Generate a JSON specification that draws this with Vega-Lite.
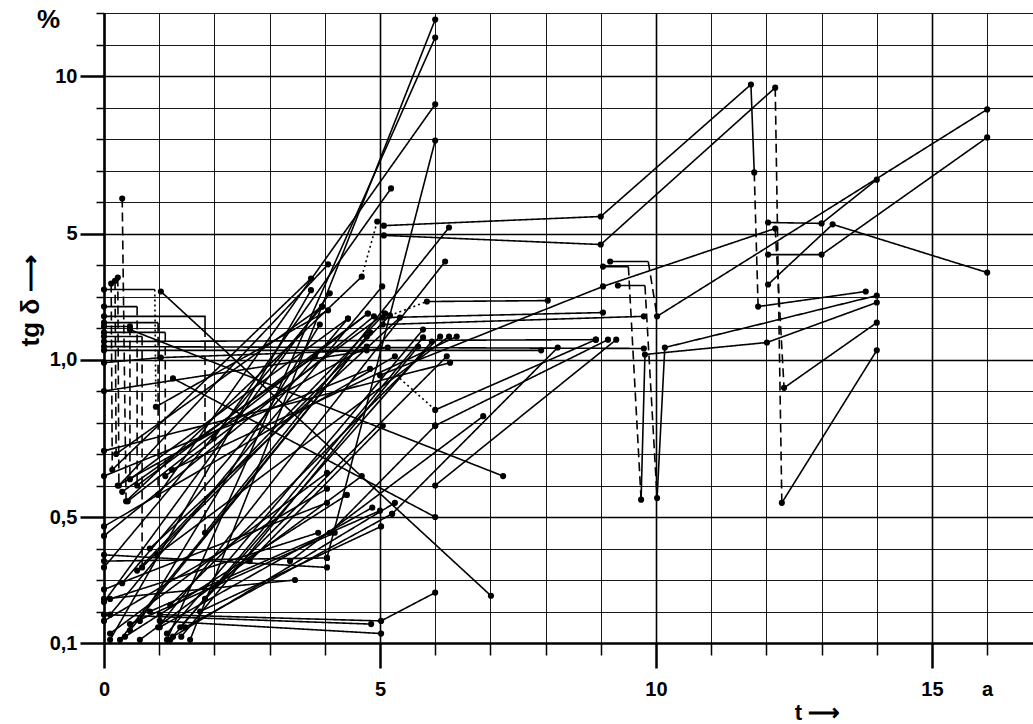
{
"$schema": "https://vega.github.io/schema/vega-lite/v6.json",
"width": 929, "height": 630,
"autosize": {"type": "none"},
"padding": {"left": 104, "top": 13, "right": 0, "bottom": 81},
"background": "white",
"config": {"view": {"stroke": null}, "font": "Liberation Sans"},
"title": {"text": "%", "anchor": "start", "frame": "group", "orient": "top", "dx": -67, "dy": 34, "offset": -9, "baseline": "middle", "fontSize": 26, "fontWeight": "bold", "color": "black"},
"data": {"values": [
{"s":"S1","k":"solid","o":1,"t":5.07,"v":5.25,"p":1},{"s":"S1","k":"solid","o":2,"t":9.0,"v":5.54,"p":1},{"s":"S1","k":"solid","o":3,"t":11.72,"v":9.73,"p":1},{"s":"S1","k":"solid","o":4,"t":11.78,"v":6.94,"p":1},
{"s":"S1d","k":"dash","o":1,"t":11.78,"v":6.94,"p":0},{"s":"S1d","k":"dash","o":2,"t":11.85,"v":2.68,"p":1},
{"s":"S1b","k":"solid","o":1,"t":11.85,"v":2.68,"p":0},{"s":"S1b","k":"solid","o":2,"t":13.8,"v":3.16,"p":1},
{"s":"S2","k":"solid","o":1,"t":5.07,"v":4.94,"p":1},{"s":"S2","k":"solid","o":2,"t":9.0,"v":4.65,"p":1},{"s":"S2","k":"solid","o":3,"t":12.16,"v":9.63,"p":1},
{"s":"S2d","k":"dash","o":1,"t":12.16,"v":9.63,"p":0},{"s":"S2d","k":"dash","o":2,"t":12.28,"v":0.545,"p":1},
{"s":"S2b","k":"solid","o":1,"t":12.28,"v":0.545,"p":0},{"s":"S2b","k":"solid","o":2,"t":14,"v":1.29,"p":1},
{"s":"S3","k":"solid","o":1,"t":5.0,"v":0.95,"p":1},{"s":"S3","k":"solid","o":2,"t":9.04,"v":3.32,"p":1},{"s":"S3","k":"solid","o":3,"t":12.16,"v":5.16,"p":1},
{"s":"S3d","k":"dash","o":1,"t":12.16,"v":5.16,"p":0},{"s":"S3d","k":"dash","o":2,"t":12.32,"v":0.91,"p":1},
{"s":"S3b","k":"solid","o":1,"t":12.32,"v":0.91,"p":0},{"s":"S3b","k":"solid","o":2,"t":14,"v":2.17,"p":1},
{"s":"S4","k":"solid","o":1,"t":12.03,"v":5.35,"p":1},{"s":"S4","k":"solid","o":2,"t":13,"v":5.32,"p":1},{"s":"S4","k":"solid","o":3,"t":14,"v":6.71,"p":1},
{"s":"S5","k":"solid","o":1,"t":12.03,"v":4.33,"p":1},{"s":"S5","k":"solid","o":2,"t":13,"v":4.33,"p":1},{"s":"S5","k":"solid","o":3,"t":16,"v":8.05,"p":1},
{"s":"S6","k":"solid","o":1,"t":12.03,"v":3.38,"p":1},{"s":"S6","k":"solid","o":2,"t":13.2,"v":5.29,"p":1},{"s":"S6","k":"solid","o":3,"t":16,"v":3.76,"p":1},
{"s":"Z3a","k":"solid","o":1,"t":9.17,"v":4.11,"p":1},{"s":"Z3a","k":"solid","o":2,"t":9.86,"v":4.11,"p":0},
{"s":"Z3d","k":"dash","o":1,"t":9.86,"v":4.11,"p":0},{"s":"Z3d","k":"dash","o":2,"t":10.02,"v":2.37,"p":1},
{"s":"Z3b","k":"solid","o":1,"t":10.02,"v":2.37,"p":0},{"s":"Z3b","k":"solid","o":2,"t":16,"v":8.94,"p":1},
{"s":"Z2a","k":"solid","o":1,"t":9.31,"v":3.35,"p":1},{"s":"Z2a","k":"solid","o":2,"t":9.8,"v":3.35,"p":0},
{"s":"Z2d","k":"dash","o":1,"t":9.8,"v":3.35,"p":0},{"s":"Z2d","k":"dash","o":2,"t":10.02,"v":0.56,"p":1},
{"s":"Z2b","k":"solid","o":1,"t":10.02,"v":0.56,"p":0},{"s":"Z2b","k":"solid","o":2,"t":10.16,"v":1.38,"p":1},{"s":"Z2b","k":"solid","o":3,"t":14,"v":3.03,"p":1},
{"s":"Z1a","k":"solid","o":1,"t":9.04,"v":3.95,"p":1},{"s":"Z1a","k":"solid","o":2,"t":9.5,"v":3.95,"p":0},
{"s":"Z1d","k":"dash","o":1,"t":9.5,"v":3.95,"p":0},{"s":"Z1d","k":"dash","o":2,"t":9.73,"v":0.555,"p":1},
{"s":"Z1b","k":"solid","o":1,"t":9.73,"v":0.555,"p":0},{"s":"Z1b","k":"solid","o":2,"t":9.8,"v":1.16,"p":1},{"s":"Z1b","k":"solid","o":3,"t":12.01,"v":1.54,"p":1},{"s":"Z1b","k":"solid","o":4,"t":14,"v":2.81,"p":1},
{"s":"F1o","k":"dot","o":1,"t":5.18,"v":2.4,"p":1},{"s":"F1o","k":"dot","o":2,"t":5.85,"v":2.84,"p":1},
{"s":"F1","k":"solid","o":1,"t":5.85,"v":2.84,"p":0},{"s":"F1","k":"solid","o":2,"t":8.04,"v":2.87,"p":1},
{"s":"F2","k":"solid","o":1,"t":5.05,"v":2.33,"p":1},{"s":"F2","k":"solid","o":2,"t":9.04,"v":2.49,"p":1},
{"s":"F3","k":"solid","o":1,"t":5.05,"v":2.11,"p":1},{"s":"F3","k":"solid","o":2,"t":9.78,"v":2.37,"p":1},
{"s":"F4","k":"solid","o":1,"t":0,"v":1.41,"p":1},{"s":"F4","k":"solid","o":2,"t":9.78,"v":1.35,"p":1},
{"s":"F5","k":"solid","o":1,"t":0,"v":1.57,"p":1},{"s":"F5","k":"solid","o":2,"t":8.91,"v":1.63,"p":1},
{"s":"F6","k":"solid","o":1,"t":0,"v":1.29,"p":1},{"s":"F6","k":"solid","o":2,"t":7.92,"v":1.29,"p":1},
{"s":"F7","k":"solid","o":1,"t":5.22,"v":0.51,"p":1},{"s":"F7","k":"solid","o":2,"t":8.22,"v":1.38,"p":1},
{"s":"F8","k":"solid","o":1,"t":6.0,"v":0.79,"p":1},{"s":"F8","k":"solid","o":2,"t":9.13,"v":1.63,"p":1},
{"s":"F9o","k":"dot","o":1,"t":5.36,"v":0.94,"p":0},{"s":"F9o","k":"dot","o":2,"t":6.0,"v":0.84,"p":1},
{"s":"F9","k":"solid","o":1,"t":6.0,"v":0.84,"p":0},{"s":"F9","k":"solid","o":2,"t":8.91,"v":1.63,"p":1},
{"s":"F10","k":"solid","o":1,"t":6.0,"v":0.6,"p":1},{"s":"F10","k":"solid","o":2,"t":9.28,"v":1.63,"p":1},
{"s":"U1","k":"solid","o":1,"t":1.56,"v":0.11,"p":1},{"s":"U1","k":"solid","o":2,"t":6.0,"v":11.79,"p":1},
{"s":"U2","k":"solid","o":1,"t":1.14,"v":0.11,"p":1},{"s":"U2","k":"solid","o":2,"t":6.0,"v":11.22,"p":1},
{"s":"U4","k":"solid","o":1,"t":4.04,"v":0.37,"p":1},{"s":"U4","k":"solid","o":2,"t":6.0,"v":7.95,"p":1},
{"s":"U5","k":"solid","o":1,"t":1.99,"v":0.75,"p":1},{"s":"U5","k":"solid","o":2,"t":5.2,"v":6.43,"p":1},
{"s":"T1a","k":"solid","o":1,"t":0,"v":3.22,"p":1},{"s":"T1a","k":"solid","o":2,"t":0.92,"v":3.22,"p":0},
{"s":"T1d","k":"dot","o":1,"t":0.92,"v":3.22,"p":0},{"s":"T1d","k":"dot","o":2,"t":0.94,"v":0.85,"p":1},
{"s":"T1b","k":"solid","o":1,"t":0.94,"v":0.85,"p":0},{"s":"T1b","k":"solid","o":2,"t":4.06,"v":2.56,"p":1},
{"s":"T2a","k":"solid","o":1,"t":0,"v":2.68,"p":1},{"s":"T2a","k":"solid","o":2,"t":0.6,"v":2.68,"p":0},
{"s":"T2d","k":"dash","o":1,"t":0.6,"v":2.68,"p":0},{"s":"T2d","k":"dash","o":2,"t":0.6,"v":0.6,"p":1},
{"s":"T2b","k":"solid","o":1,"t":0.6,"v":0.6,"p":0},{"s":"T2b","k":"solid","o":2,"t":4.78,"v":2.46,"p":1},
{"s":"T3a","k":"solid","o":1,"t":0,"v":2.37,"p":1},{"s":"T3a","k":"solid","o":2,"t":1.83,"v":2.37,"p":0},{"s":"T3a","k":"solid","o":3,"t":1.83,"v":2.0,"p":0},
{"s":"T3d","k":"dash","o":1,"t":1.83,"v":2.0,"p":0},{"s":"T3d","k":"dash","o":2,"t":1.83,"v":0.45,"p":1},
{"s":"T3b","k":"solid","o":1,"t":1.83,"v":0.45,"p":0},{"s":"T3b","k":"solid","o":2,"t":6.25,"v":5.19,"p":1},
{"s":"T4a","k":"solid","o":1,"t":0,"v":2.17,"p":1},{"s":"T4a","k":"solid","o":2,"t":0.98,"v":2.17,"p":0},
{"s":"T4d","k":"dash","o":1,"t":0.98,"v":2.17,"p":0},{"s":"T4d","k":"dash","o":2,"t":0.98,"v":0.57,"p":1},
{"s":"T4b","k":"solid","o":1,"t":0.98,"v":0.57,"p":0},{"s":"T4b","k":"solid","o":2,"t":6.0,"v":9.1,"p":1},
{"s":"T5d","k":"dash","o":1,"t":0.25,"v":3.6,"p":1},{"s":"T5d","k":"dash","o":2,"t":0.27,"v":0.6,"p":1},
{"s":"T5b","k":"solid","o":1,"t":0.27,"v":0.6,"p":0},{"s":"T5b","k":"solid","o":2,"t":4.06,"v":4.02,"p":1},
{"s":"T6d","k":"dash","o":1,"t":0.13,"v":3.41,"p":1},{"s":"T6d","k":"dash","o":2,"t":0.15,"v":0.65,"p":1},
{"s":"T6b","k":"solid","o":1,"t":0.15,"v":0.65,"p":0},{"s":"T6b","k":"solid","o":2,"t":3.75,"v":3.57,"p":1},
{"s":"T7d","k":"dash","o":1,"t":0.33,"v":6.11,"p":1},{"s":"T7d","k":"dash","o":2,"t":0.4,"v":0.55,"p":1},
{"s":"T7b","k":"solid","o":1,"t":0.4,"v":0.55,"p":0},{"s":"T7b","k":"solid","o":2,"t":4.67,"v":3.63,"p":1},
{"s":"T7o","k":"dot","o":1,"t":4.67,"v":3.63,"p":0},{"s":"T7o","k":"dot","o":2,"t":4.95,"v":5.38,"p":1},
{"s":"T8a","k":"solid","o":1,"t":0,"v":2.05,"p":1},{"s":"T8a","k":"solid","o":2,"t":0.47,"v":2.05,"p":1},
{"s":"T8d","k":"dash","o":1,"t":0.47,"v":2.05,"p":0},{"s":"T8d","k":"dash","o":2,"t":0.47,"v":0.62,"p":1},
{"s":"T8b","k":"solid","o":1,"t":0.47,"v":0.62,"p":0},{"s":"T8b","k":"solid","o":2,"t":4.42,"v":2.3,"p":1},
{"s":"T9a","k":"solid","o":1,"t":0,"v":1.86,"p":1},{"s":"T9a","k":"solid","o":2,"t":1.11,"v":1.86,"p":0},
{"s":"T9d","k":"dash","o":1,"t":1.11,"v":1.86,"p":0},{"s":"T9d","k":"dash","o":2,"t":1.11,"v":0.63,"p":1},
{"s":"T9b","k":"solid","o":1,"t":1.11,"v":0.63,"p":0},{"s":"T9b","k":"solid","o":2,"t":5.09,"v":2.46,"p":1},
{"s":"T10a","k":"solid","o":1,"t":0,"v":1.73,"p":1},{"s":"T10a","k":"solid","o":2,"t":0.69,"v":1.73,"p":0},
{"s":"T10d","k":"dash","o":1,"t":0.69,"v":1.73,"p":0},{"s":"T10d","k":"dash","o":2,"t":0.69,"v":0.34,"p":1},
{"s":"T10b","k":"solid","o":1,"t":0.69,"v":0.34,"p":0},{"s":"T10b","k":"solid","o":2,"t":5.18,"v":2.4,"p":0},
{"s":"T11d","k":"dash","o":1,"t":0.2,"v":3.5,"p":1},{"s":"T11d","k":"dash","o":2,"t":0.22,"v":0.7,"p":1},
{"s":"T11b","k":"solid","o":1,"t":0.22,"v":0.7,"p":0},{"s":"T11b","k":"solid","o":2,"t":3.95,"v":2.68,"p":1},
{"s":"L1","k":"solid","o":1,"t":0,"v":0.23,"p":1},{"s":"L1","k":"solid","o":2,"t":4.09,"v":3.1,"p":1},
{"s":"L2","k":"solid","o":1,"t":0.11,"v":0.11,"p":1},{"s":"L2","k":"solid","o":2,"t":3.75,"v":3.2,"p":1},
{"s":"L3","k":"solid","o":1,"t":0,"v":0.34,"p":1},{"s":"L3","k":"solid","o":2,"t":3.95,"v":2.68,"p":1},
{"s":"L5","k":"solid","o":1,"t":0.33,"v":0.29,"p":1},{"s":"L5","k":"solid","o":2,"t":4.42,"v":2.3,"p":1},
{"s":"L6","k":"solid","o":1,"t":0.43,"v":0.55,"p":1},{"s":"L6","k":"solid","o":2,"t":4.78,"v":2.46,"p":1},
{"s":"L7","k":"solid","o":1,"t":0.11,"v":0.19,"p":1},{"s":"L7","k":"solid","o":2,"t":5.04,"v":3.32,"p":1},
{"s":"L8","k":"solid","o":1,"t":0,"v":0.44,"p":1},{"s":"L8","k":"solid","o":2,"t":4.89,"v":2.37,"p":1},
{"s":"L9","k":"solid","o":1,"t":0.6,"v":0.33,"p":1},{"s":"L9","k":"solid","o":2,"t":5.09,"v":2.46,"p":1},
{"s":"L11","k":"solid","o":1,"t":0.83,"v":0.4,"p":1},{"s":"L11","k":"solid","o":2,"t":5.36,"v":2.33,"p":1},
{"s":"L12","k":"solid","o":1,"t":0.98,"v":0.15,"p":1},{"s":"L12","k":"solid","o":2,"t":6.18,"v":4.11,"p":1},
{"s":"L13","k":"solid","o":1,"t":1.14,"v":0.13,"p":1},{"s":"L13","k":"solid","o":2,"t":5.78,"v":1.95,"p":1},
{"s":"L14","k":"solid","o":1,"t":1.2,"v":0.11,"p":1},{"s":"L14","k":"solid","o":2,"t":5.78,"v":1.7,"p":1},
{"s":"L15","k":"solid","o":1,"t":1.2,"v":0.22,"p":1},{"s":"L15","k":"solid","o":2,"t":6.09,"v":1.73,"p":1},
{"s":"L16","k":"solid","o":1,"t":0.96,"v":0.38,"p":1},{"s":"L16","k":"solid","o":2,"t":6.25,"v":1.73,"p":1},
{"s":"L17","k":"solid","o":1,"t":1.23,"v":0.65,"p":1},{"s":"L17","k":"solid","o":2,"t":6.39,"v":1.73,"p":1},
{"s":"L19","k":"solid","o":1,"t":0,"v":0.47,"p":1},{"s":"L19","k":"solid","o":2,"t":5.27,"v":1.1,"p":1},
{"s":"L20","k":"solid","o":1,"t":0.25,"v":0.6,"p":1},{"s":"L20","k":"solid","o":2,"t":4.76,"v":1.41,"p":1},
{"s":"L21","k":"solid","o":1,"t":0.33,"v":0.58,"p":1},{"s":"L21","k":"solid","o":2,"t":3.82,"v":1.1,"p":1},
{"s":"L22","k":"solid","o":1,"t":0,"v":0.63,"p":1},{"s":"L22","k":"solid","o":2,"t":4.82,"v":0.97,"p":1},
{"s":"L23","k":"solid","o":1,"t":0,"v":0.71,"p":1},{"s":"L23","k":"solid","o":2,"t":6.27,"v":0.99,"p":1},
{"s":"L24","k":"solid","o":1,"t":1.83,"v":0.24,"p":1},{"s":"L24","k":"solid","o":2,"t":6.21,"v":1.1,"p":1},
{"s":"L25","k":"solid","o":1,"t":0.47,"v":0.14,"p":1},{"s":"L25","k":"solid","o":2,"t":4.82,"v":1.86,"p":1},
{"s":"L26","k":"solid","o":1,"t":0.65,"v":0.17,"p":1},{"s":"L26","k":"solid","o":2,"t":3.91,"v":2.11,"p":1},
{"s":"L27","k":"solid","o":1,"t":0.29,"v":0.11,"p":1},{"s":"L27","k":"solid","o":2,"t":4.76,"v":1.73,"p":1},
{"s":"L28","k":"solid","o":1,"t":1.4,"v":0.12,"p":1},{"s":"L28","k":"solid","o":2,"t":5.69,"v":1.41,"p":1},
{"s":"L29","k":"solid","o":1,"t":1.38,"v":0.15,"p":1},{"s":"L29","k":"solid","o":2,"t":5.94,"v":1.57,"p":1},
{"s":"L30","k":"solid","o":1,"t":0,"v":0.9,"p":1},{"s":"L30","k":"solid","o":2,"t":5.14,"v":1.38,"p":1},
{"s":"M1","k":"solid","o":1,"t":0.11,"v":0.13,"p":1},{"s":"M1","k":"solid","o":2,"t":4.04,"v":0.64,"p":1},
{"s":"M2","k":"solid","o":1,"t":0.65,"v":0.11,"p":1},{"s":"M2","k":"solid","o":2,"t":4.67,"v":0.63,"p":1},
{"s":"M3","k":"solid","o":1,"t":0,"v":0.17,"p":1},{"s":"M3","k":"solid","o":2,"t":4.04,"v":0.59,"p":1},
{"s":"M4","k":"solid","o":1,"t":0.38,"v":0.12,"p":1},{"s":"M4","k":"solid","o":2,"t":4.4,"v":0.57,"p":1},
{"s":"M5","k":"solid","o":1,"t":0,"v":0.27,"p":1},{"s":"M5","k":"solid","o":2,"t":4.04,"v":0.545,"p":1},
{"s":"M6","k":"solid","o":1,"t":1.25,"v":0.12,"p":1},{"s":"M6","k":"solid","o":2,"t":5.27,"v":0.545,"p":1},
{"s":"M7","k":"solid","o":1,"t":1.01,"v":0.15,"p":1},{"s":"M7","k":"solid","o":2,"t":4.86,"v":0.53,"p":1},
{"s":"M8","k":"solid","o":1,"t":0.83,"v":0.2,"p":1},{"s":"M8","k":"solid","o":2,"t":5.0,"v":0.52,"p":1},
{"s":"M9","k":"solid","o":1,"t":1.47,"v":0.15,"p":1},{"s":"M9","k":"solid","o":2,"t":5.22,"v":0.51,"p":1},
{"s":"M10","k":"solid","o":1,"t":1.25,"v":0.94,"p":1},{"s":"M10","k":"solid","o":2,"t":6.0,"v":0.5,"p":1},
{"s":"M11","k":"solid","o":1,"t":1.74,"v":0.2,"p":1},{"s":"M11","k":"solid","o":2,"t":5.02,"v":0.47,"p":1},
{"s":"M12","k":"solid","o":1,"t":0.11,"v":0.24,"p":1},{"s":"M12","k":"solid","o":2,"t":3.88,"v":0.45,"p":1},
{"s":"M13","k":"solid","o":1,"t":0.47,"v":0.16,"p":1},{"s":"M13","k":"solid","o":2,"t":4.18,"v":0.45,"p":1},
{"s":"M14","k":"solid","o":1,"t":0,"v":0.36,"p":1},{"s":"M14","k":"solid","o":2,"t":4.04,"v":0.37,"p":1},
{"s":"M15","k":"solid","o":1,"t":0,"v":0.38,"p":1},{"s":"M15","k":"solid","o":2,"t":4.04,"v":0.34,"p":1},
{"s":"M16","k":"solid","o":1,"t":0,"v":0.24,"p":1},{"s":"M16","k":"solid","o":2,"t":3.46,"v":0.3,"p":1},
{"s":"M17","k":"solid","o":1,"t":1.01,"v":0.19,"p":1},{"s":"M17","k":"solid","o":2,"t":5.02,"v":0.17,"p":1},{"s":"M17","k":"solid","o":3,"t":6.0,"v":0.26,"p":1},
{"s":"M18","k":"solid","o":1,"t":1.03,"v":3.16,"p":1},{"s":"M18","k":"solid","o":2,"t":7.01,"v":0.25,"p":1},
{"s":"M19","k":"solid","o":1,"t":0,"v":0.19,"p":1},{"s":"M19","k":"solid","o":2,"t":4.84,"v":0.16,"p":1},
{"s":"M20","k":"solid","o":1,"t":1.01,"v":0.17,"p":1},{"s":"M20","k":"solid","o":2,"t":5.02,"v":0.13,"p":1},
{"s":"M21","k":"solid","o":1,"t":2.64,"v":0.36,"p":1},{"s":"M21","k":"solid","o":2,"t":5.05,"v":0.79,"p":1},
{"s":"M22","k":"solid","o":1,"t":4.09,"v":0.45,"p":1},{"s":"M22","k":"solid","o":2,"t":6.0,"v":0.79,"p":1},
{"s":"M23","k":"solid","o":1,"t":3.37,"v":0.36,"p":1},{"s":"M23","k":"solid","o":2,"t":6.87,"v":0.82,"p":1},
{"s":"M24","k":"solid","o":1,"t":0.47,"v":1.95,"p":1},{"s":"M24","k":"solid","o":2,"t":7.23,"v":0.63,"p":1},
{"s":"M25","k":"solid","o":1,"t":0,"v":0.99,"p":1},{"s":"M25","k":"solid","o":2,"t":1.03,"v":1.06,"p":1},{"s":"M25","k":"solid","o":3,"t":4.76,"v":1.29,"p":1}
]},
"encoding": {
  "x": {"field": "t", "type": "quantitative",
    "scale": {"domain": [0, 16.83], "nice": false, "zero": false},
    "axis": {"values": [0,1,2,3,4,5,6,7,8,9,10,11,12,13,14,15,16],
      "labelExpr": "datum.value == 16 ? 'a' : (datum.value % 5 == 0 ? datum.label : '')",
      "labelFont": "Liberation Sans", "labelFontSize": 20, "labelFontWeight": "bold", "labelColor": "black", "labelFlush": false, "labelOverlap": false,
      "labelPadding": {"condition": {"test": "datum.value == 16", "value": 24}, "value": 11},
      "tickColor": "black",
      "tickSize": {"condition": {"test": "datum.value % 5 == 0", "value": 25}, "value": 12},
      "tickWidth": {"condition": {"test": "datum.value % 5 == 0", "value": 2.5}, "value": 1.5},
      "domainColor": "black", "domainWidth": 2.5,
      "grid": true, "gridColor": "black",
      "gridWidth": {"condition": {"test": "datum.value % 5 == 0", "value": 1.6}, "value": 0.9},
      "title": "t ⟶", "titleX": 713, "titleY": 69, "titleAlign": "center", "titleBaseline": "middle", "titleFont": "Liberation Sans", "titleFontSize": 22, "titleFontWeight": "bold", "titleColor": "black"}},
  "y": {"field": "v", "type": "quantitative",
    "scale": {"type": "linear", "domain": [0.1, 1, 12], "range": [630, 346.5, 0], "nice": false, "zero": false},
    "axis": {"values": [0.1,0.2,0.3,0.4,0.5,0.6,0.7,0.8,0.9,1,2,3,4,5,6,7,8,9,10,11,12],
      "labelExpr": "datum.value == 0.1 ? '0,1' : datum.value == 0.5 ? '0,5' : datum.value == 1 ? '1,0' : datum.value == 5 ? '5' : datum.value == 10 ? '10' : ''",
      "labelFont": "Liberation Sans", "labelFontSize": 20, "labelFontWeight": "bold", "labelColor": "black", "labelPadding": 3, "labelOverlap": false, "labelFlush": false,
      "tickColor": "black",
      "tickSize": {"condition": {"test": "datum.value == 0.1 || datum.value == 0.5 || datum.value == 1 || datum.value == 5 || datum.value == 10", "value": 24}, "value": 8},
      "tickWidth": {"condition": {"test": "datum.value == 0.1 || datum.value == 0.5 || datum.value == 1 || datum.value == 5 || datum.value == 10", "value": 2.5}, "value": 1.5},
      "domainColor": "black", "domainWidth": 2.5,
      "grid": true, "gridColor": "black",
      "gridWidth": {"condition": {"test": "datum.value == 0.5 || datum.value == 1 || datum.value == 5 || datum.value == 10", "value": 1.6}, "value": 0.9},
      "title": "tg δ ⟶", "titleX": -74, "titleY": 287, "titleAngle": 270, "titleAlign": "center", "titleBaseline": "middle", "titleFont": "Liberation Sans", "titleFontSize": 26, "titleFontWeight": "bold", "titleColor": "black"}}
},
"layer": [
  {"mark": {"type": "line", "color": "black", "strokeWidth": 1.6},
   "encoding": {"detail": {"field": "s", "type": "nominal"}, "order": {"field": "o", "type": "quantitative"},
     "strokeDash": {"field": "k", "type": "nominal", "scale": {"domain": ["solid", "dash", "dot"], "range": [[1, 0], [9, 5], [2, 3]]}, "legend": null}}},
  {"transform": [{"filter": "datum.p == 1"}],
   "mark": {"type": "circle", "color": "black", "opacity": 1, "size": 38}}
]
}
